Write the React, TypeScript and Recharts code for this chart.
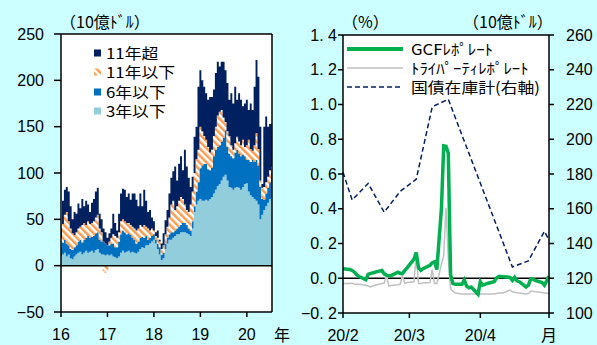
import {
  Area,
  AreaChart,
  CartesianGrid,
  Legend,
  Line,
  LineChart,
  ReferenceLine,
  XAxis,
  YAxis,
} from "recharts";

const NUM_FONT = '"Liberation Sans", "Noto Sans CJK JP", sans-serif';
const JP_FONT = '"Noto Sans CJK JP", "Liberation Sans", sans-serif';

// holdings by maturity, semi-monthly from 2016 (10億ドル)
const yearTicks = [16, 17, 18, 19, 20];
const under3 = [
  10, 12, 14, 10, 12, 8, 7, 10, 12, 14, 15, 12, 14, 16, 14, 15, 16, 14, 17, 18, 14, 12, 12, 11,
  12, 11, 12, 10, 9, 8, 10, 14, 16, 14, 15, 16, 14, 15, 14, 13, 15, 18, 20, 19, 22, 22, 24, 26,
  28, 24, 18, 12, 6, 8, 18, 24, 28, 28, 30, 32, 34, 34, 36, 36, 36, 35, 34, 32, 40, 58, 66, 70,
  72, 70, 70, 71, 70, 72, 74, 78, 82, 86, 88, 92, 96, 98, 92, 85, 84, 82, 84, 85, 84, 82, 85, 88,
  89, 80, 76, 74, 72, 70, 66, 50, 55, 60, 64, 68, 72, 74,
];
const under6 = [
  10, 13, 14, 14, 10, 10, 10, 10, 10, 12, 13, 13, 14, 14, 18, 15, 15, 18, 18, 18, 14, 14, 14, 13,
  10, 11, 12, 14, 11, 12, 16, 20, 22, 22, 19, 19, 19, 15, 14, 11, 11, 12, 11, 11, 10, 6, 6, 6,
  6, 4, 6, 8, 6, 6, 6, 6, 6, 8, 6, 6, 6, 8, 8, 10, 10, 9, 6, 6, 8, 6, 14, 20,
  33, 38, 40, 39, 34, 31, 32, 40, 43, 42, 42, 42, 42, 48, 36, 36, 34, 34, 38, 40, 37, 36, 35, 30,
  25, 34, 36, 40, 40, 44, 42, 35, 17, 11, 14, 16, 18, 26,
];
const under11 = [
  10, 20, 27, 34, 26, 22, 18, 13, 14, 14, 14, 19, 18, 14, 16, 15, 15, 16, 17, 19, 12, 10, -6, -8,
  -5, 4, 6, 10, 12, 10, 10, 14, 12, 12, 12, 11, 11, 12, 12, 14, 14, 14, 11, 14, 10, 12, 8, 8,
  4, 4, 6, 6, 6, 8, 10, 12, 18, 30, 34, 22, 24, 28, 30, 26, 20, 16, 18, 28, 32, 36, 35, 35,
  45, 37, 30, 26, 24, 19, 19, 22, 25, 34, 36, 34, 22, 9, 17, 19, 12, 9, 10, 14, 13, 12, 16, 10,
  16, 22, 14, 10, 18, 29, 18, 7, 12, 14, 12, 12, 13, 7,
];
const over11 = [
  10, 25, 27, 27, 32, 24, 15, 25, 20, 27, 20, 28, 18, 26, 18, 13, 22, 24, 28, 29, 16, 14, 14, 12,
  8, 9, 10, 22, 14, 8, 20, 30, 33, 34, 28, 32, 27, 36, 38, 33, 24, 34, 22, 38, 28, 18, 22, 12,
  10, 4, 8, 2, 6, 13, 15, 18, 26, 29, 32, 47, 28, 40, 44, 31, 59, 47, 37, 19, 16, 39, 35, 68,
  61, 55, 53, 50, 51, 60, 57, 50, 58, 58, 49, 52, 60, 56, 52, 39, 56, 50, 61, 40, 52, 49, 36, 47,
  49, 32, 49, 44, 63, 79, 78, 58, 4, 65, 71, 54, 50, 46,
];

const stockRows = under3.map((v, i) => ({
  t: 16 + i / 24,
  under3: v,
  under6: under6[i],
  under11: under11[i],
  over11: over11[i],
}));

// repo rates (%), by day counted from 1 Feb 2020
const rateDays = [
  0, 3, 4, 5, 6, 7, 10, 11, 12, 13, 14, 17, 18, 19, 20, 21, 24, 25, 26, 27, 28, 31, 32, 33, 34,
  35, 38, 39, 40, 41, 43, 44, 45, 46, 47, 48, 49, 52, 53, 54, 55, 56, 59, 60, 61, 62, 63, 66, 67,
  68, 69, 70, 73, 74, 75, 76, 77, 80, 81, 82, 83, 84, 87, 88, 89, 90,
];
const gcfRate = [
  0.055, 0.05, 0.045, 0.035, 0.02, 0.01, -0.008, 0.022, 0.028, 0.03, 0.035, 0.045, 0.025, 0.018,
  0.015, 0.015, 0.035, 0.028, 0.028, 0.045, 0.06, 0.11, 0.148, 0.06, 0.045, 0.055, 0.075, 0.09,
  0.095, 0.05, 0.4, 0.762, 0.76, 0.72, 0.02, -0.03, -0.035, -0.035, -0.01, -0.045, -0.055, -0.05,
  -0.092, -0.02, -0.04, -0.035, -0.03, -0.02, 0.0, 0.01, 0.01, 0.008, 0.005, -0.012, 0.005, -0.015,
  -0.02, -0.05, -0.04, -0.005, -0.005, -0.012, -0.025, -0.04, -0.015, 0.012,
];
const triRate = [
  -0.03, -0.03, -0.028, -0.035, -0.035, -0.035, -0.04, -0.045, -0.05, -0.045, -0.04, -0.03, -0.028,
  0.02, -0.045, -0.042, -0.038, -0.035, 0.015, -0.03, -0.025, -0.02, 0.13, -0.03, -0.03, -0.028,
  -0.025, 0.05, -0.03, -0.03, 0.08, 0.13, 0.405, 0.12, -0.06, -0.075, -0.085, -0.09, -0.09, -0.09,
  -0.09, -0.09, -0.09, -0.09, -0.09, -0.09, -0.09, -0.09, -0.088, -0.085, -0.085, -0.085, -0.068,
  -0.078, -0.08, -0.085, -0.085, -0.09, -0.088, -0.075, -0.075, -0.078, -0.082, -0.085, -0.085,
  -0.088,
];

// dealer treasury inventory (10億ドル), weekly
const invDays = [0, 4, 11, 18, 25, 32, 39, 46, 74, 81, 88, 90];
const invAmount = [181, 165, 174.6, 158, 170, 177, 218.7, 223, 126.5, 130, 147, 142];

const monthTicks = [0, 29, 60, 90];
const monthLabels = ["20/2", "20/3", "20/4", "月"];

const gcfRows = rateDays.map((d, i) => ({ d, v: gcfRate[i] }));
const triRows = rateDays.map((d, i) => ({ d, v: triRate[i] }));
const invRows = invDays.map((d, i) => ({ d, v: invAmount[i] }));

const NAVY = "#002060";
const BLUE = "#0070c0";
const LIGHT = "#92cddc";
const ORANGE = "#f89c50";
const GREEN = "#00b050";
const GREY = "#c0c0c0";

const tickStyle = { fill: "#000", fontSize: 16, fontFamily: NUM_FONT };

const Hatch = ({ id }: { id: string }) => (
  <pattern id={id} width="5" height="5" patternUnits="userSpaceOnUse" patternTransform="rotate(-45)">
    <rect width="5" height="5" fill="#fff" />
    <rect width="2.5" height="5" fill={ORANGE} />
  </pattern>
);

const stockItems = [
  { label: "11年超", fill: NAVY },
  { label: "11年以下", fill: "url(#hatchIcon)" },
  { label: "6年以下", fill: BLUE },
  { label: "3年以下", fill: LIGHT },
];

// legend text is a touch condensed so the rows keep their tight spacing
const legendText = {
  display: "inline-block",
  fontSize: 15,
  lineHeight: "16px",
  transform: "scaleX(1.12)",
  transformOrigin: "left center",
  whiteSpace: "nowrap" as const,
};

const StockLegend = () => (
  <div style={{ fontFamily: JP_FONT, color: "#000" }}>
    <svg width={0} height={0} style={{ position: "absolute" }}>
      <defs>
        <Hatch id="hatchIcon" />
      </defs>
    </svg>
    {stockItems.map((it) => (
      <div key={it.label} style={{ display: "flex", alignItems: "center", height: 19.5 }}>
        <svg width={8} height={8} style={{ marginRight: 4 }}>
          <rect width={7} height={7} y={0.5} fill={it.fill} />
        </svg>
        <span style={legendText}>{it.label}</span>
      </div>
    ))}
  </div>
);

const rateItems = [
  { label: "GCFﾚﾎﾟﾚｰﾄ", color: GREEN, width: 4, dash: undefined },
  { label: "ﾄﾗｲﾊﾟｰﾃｨﾚﾎﾟﾚｰﾄ", color: GREY, width: 1.5, dash: undefined },
  { label: "国債在庫計(右軸)", color: NAVY, width: 1.5, dash: "5 3" },
];

const RateLegend = () => (
  <div style={{ fontFamily: JP_FONT, color: "#000" }}>
    {rateItems.map((it) => (
      <div key={it.label} style={{ display: "flex", alignItems: "center", height: 19 }}>
        <svg width={56} height={8} style={{ marginRight: 8 }}>
          <line x1={0} x2={56} y1={4} y2={4} stroke={it.color} strokeWidth={it.width} strokeDasharray={it.dash} />
        </svg>
        <span style={legendText}>{it.label}</span>
      </div>
    ))}
  </div>
);

const rateTick = (v: number) => (v < 0 ? "−" : "") + Math.abs(v).toFixed(1).replace(".", ". ");

const label = (left: number, top: number, text: string, size = 16) => (
  <div
    style={{
      position: "absolute",
      left,
      top,
      fontFamily: JP_FONT,
      fontSize: size,
      lineHeight: 1,
      color: "#000",
      whiteSpace: "nowrap",
    }}
  >
    {text}
  </div>
);

export default function App() {
  return (
    <div
      style={{
        position: "absolute",
        left: 0,
        top: 0,
        width: 597,
        height: 345,
        background: "#ccffff",
        overflow: "hidden",
      }}
    >
      <div style={{ position: "absolute", left: 0, top: 0 }}>
        <AreaChart
          width={290}
          height={345}
          data={stockRows}
          stackOffset="sign"
          margin={{ top: 34, right: 18, bottom: 0, left: 0 }}
        >
          <defs>
            <Hatch id="hatchFill" />
          </defs>
          <CartesianGrid fill="#fff" stroke="none" />
          <XAxis
            dataKey="t"
            type="number"
            domain={[16, 16 + 109 / 24]}
            ticks={yearTicks}
            height={33}
            tick={tickStyle}
            tickSize={5}
            tickMargin={12}
            stroke="#000"
            strokeWidth={1.5}
            interval={0}
          />
          <YAxis
            domain={[-50, 250]}
            ticks={[-50, 0, 50, 100, 150, 200, 250]}
            width={61}
            tick={tickStyle}
            tickSize={7}
            tickMargin={10}
            tickFormatter={(v: number) => (v < 0 ? "−" + Math.abs(v) : String(v))}
            stroke="#000"
            strokeWidth={1.5}
          />
          <Area type="step" dataKey="under3" stackId="a" fill={LIGHT} stroke="none" fillOpacity={1} isAnimationActive={false} />
          <Area type="step" dataKey="under6" stackId="a" fill={BLUE} stroke="none" fillOpacity={1} isAnimationActive={false} />
          <Area type="step" dataKey="under11" stackId="a" fill="url(#hatchFill)" stroke="none" fillOpacity={1} isAnimationActive={false} />
          <Area type="step" dataKey="over11" stackId="a" fill={NAVY} stroke="none" fillOpacity={1} isAnimationActive={false} />
          <ReferenceLine y={0} stroke="#000" strokeWidth={1.5} />
          <ReferenceLine y={250} stroke="#000" strokeWidth={1.5} />
          <ReferenceLine x={16 + 109 / 24} stroke="#000" strokeWidth={1.5} />
          <Legend
            layout="vertical"
            align="center"
            verticalAlign="middle"
            content={() => <StockLegend />}
            wrapperStyle={{ left: 94, top: 43, width: 110, bottom: "auto" }}
          />
        </AreaChart>
      </div>

      <div style={{ position: "absolute", left: 290, top: 0 }}>
        <LineChart width={307} height={345} margin={{ top: 35, right: 0, bottom: 0, left: 0 }}>
          <CartesianGrid fill="#fff" stroke="none" yAxisId="l" />
          <XAxis
            dataKey="d"
            type="number"
            domain={[0, 90]}
            ticks={monthTicks}
            tickFormatter={(v: number) => monthLabels[monthTicks.indexOf(v)]}
            height={32}
            tick={tickStyle}
            tickSize={5}
            tickMargin={12}
            stroke="#000"
            strokeWidth={1.5}
            interval={0}
            allowDuplicatedCategory={false}
          />
          <YAxis
            yAxisId="l"
            domain={[-0.2, 1.4]}
            ticks={[-0.2, 0, 0.2, 0.4, 0.6, 0.8, 1.0, 1.2, 1.4]}
            width={53}
            tick={tickStyle}
            tickSize={5}
            tickMargin={1}
            tickFormatter={rateTick}
            stroke="#000"
            strokeWidth={1.5}
          />
          <YAxis
            yAxisId="r"
            orientation="right"
            domain={[100, 260]}
            ticks={[100, 120, 140, 160, 180, 200, 220, 240, 260]}
            width={48}
            tick={tickStyle}
            tickSize={5}
            tickMargin={12}
            stroke="#000"
            strokeWidth={1.5}
          />
          <ReferenceLine yAxisId="l" y={0} stroke="#000" strokeWidth={1.5} />
          <ReferenceLine yAxisId="l" y={1.4} stroke="#000" strokeWidth={1.5} />
          <Line
            yAxisId="r"
            data={invRows}
            dataKey="v"
            stroke={NAVY}
            strokeWidth={1.5}
            strokeDasharray="5 3"
            dot={false}
            isAnimationActive={false}
          />
          <Line
            yAxisId="l"
            data={triRows}
            dataKey="v"
            stroke={GREY}
            strokeWidth={1.5}
            dot={false}
            isAnimationActive={false}
          />
          <Line
            yAxisId="l"
            data={gcfRows}
            dataKey="v"
            stroke={GREEN}
            strokeWidth={3.5}
            dot={false}
            isAnimationActive={false}
          />
          <Legend
            layout="vertical"
            align="center"
            verticalAlign="middle"
            content={() => <RateLegend />}
            wrapperStyle={{ left: 57, top: 39, width: 200, bottom: "auto" }}
          />
        </LineChart>
      </div>

      {label(60, 13, "（10億ﾄﾞﾙ）")}
      {label(342, 13, "（%）")}
      {label(463, 13, "（10億ﾄﾞﾙ）")}
      {label(274, 326, "年")}
    </div>
  );
}
